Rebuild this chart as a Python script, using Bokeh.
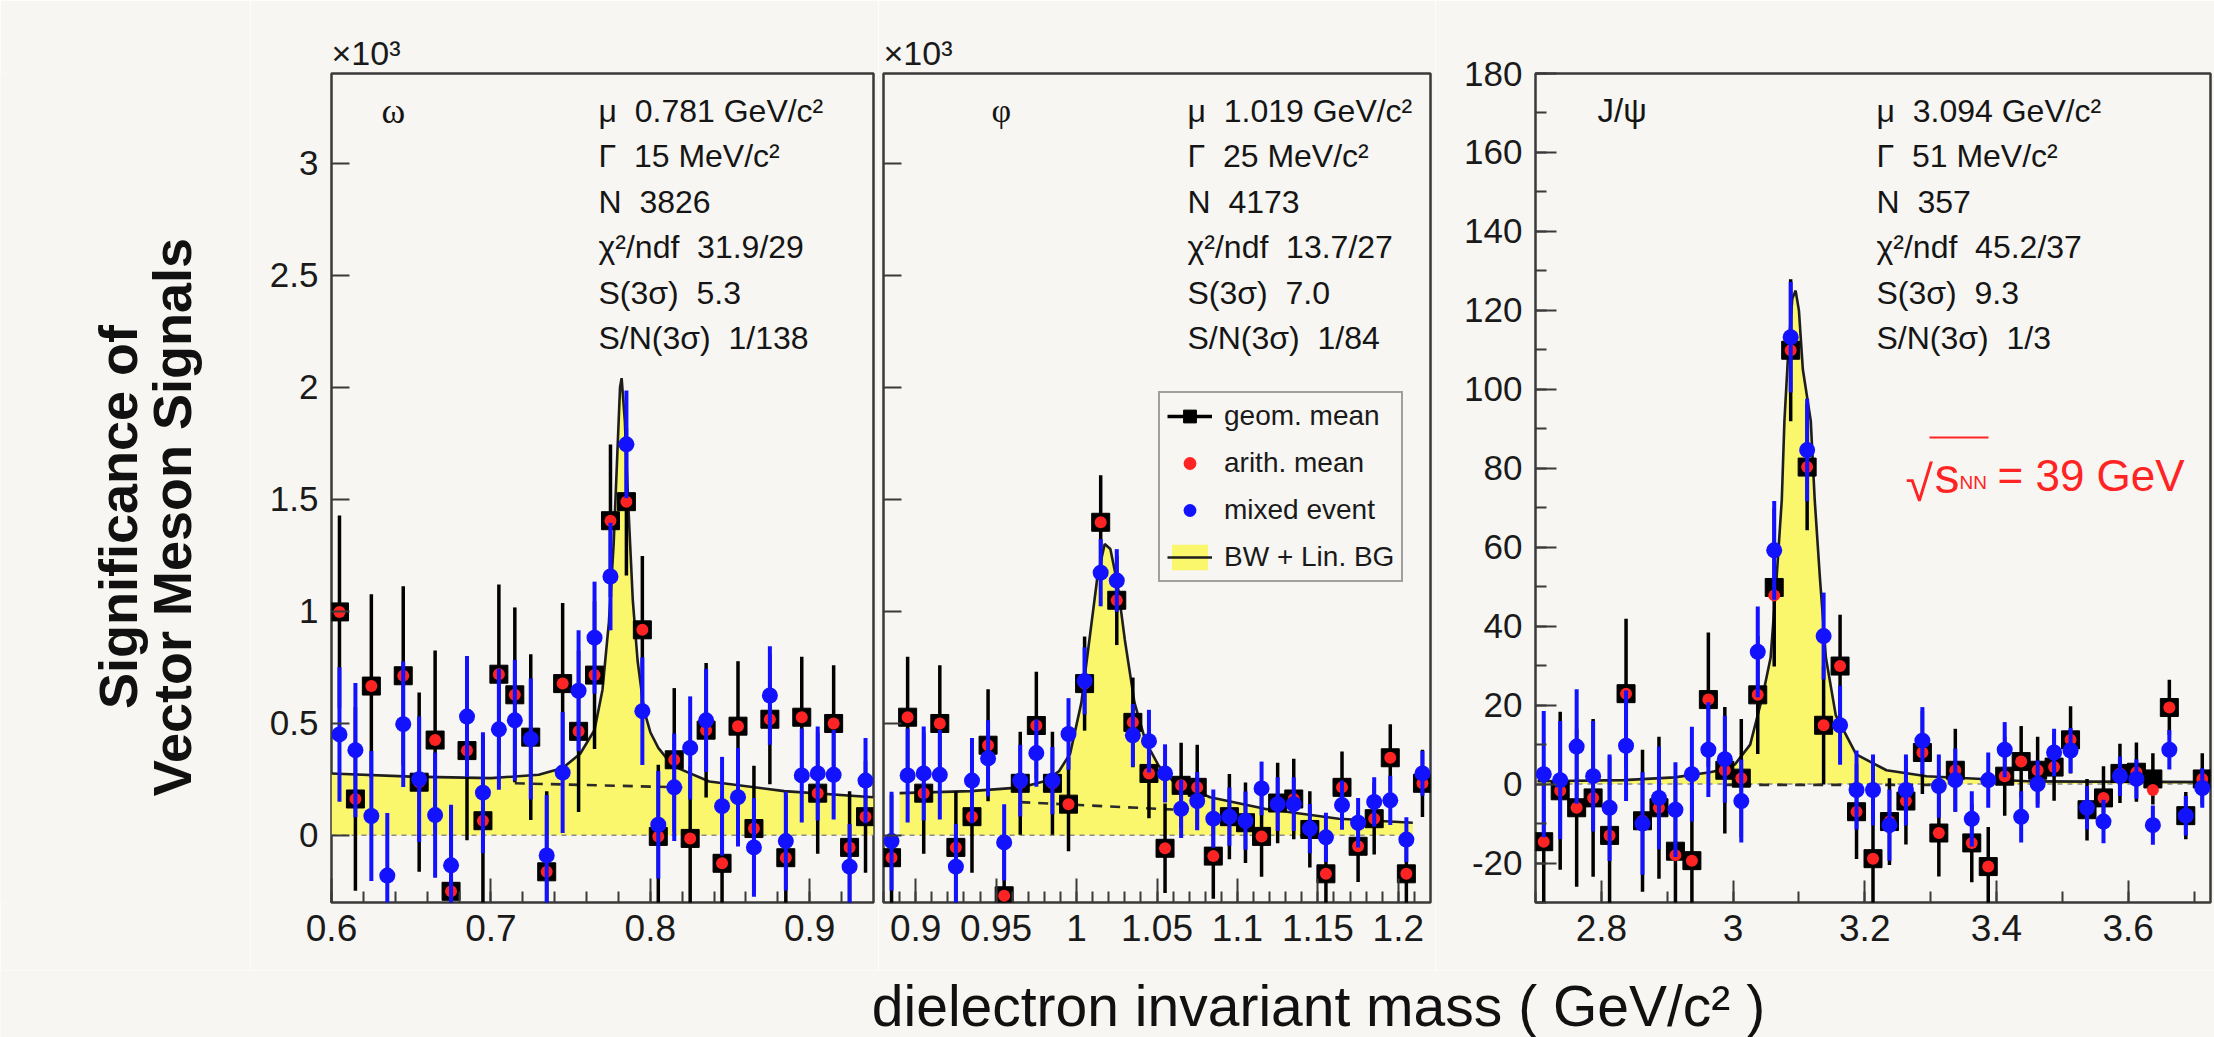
import math
from bokeh.plotting import figure
from bokeh.layouts import row, column
from bokeh.models import (Range1d, Label, Legend, LegendItem, SingleIntervalTicker,
                          CustomJSTickFormatter, ColumnDataSource, Title)
from bokeh.embed import file_html
from bokeh.resources import INLINE

NaN = float("nan")

# ---------------- data: low-mass region (omega / phi), values in units of 10^3 ----------------
lo_mass = [0.605, 0.615, 0.625, 0.635, 0.645, 0.655, 0.665, 0.675, 0.685, 0.695,
           0.705, 0.715, 0.725, 0.735, 0.745, 0.755, 0.765, 0.775, 0.785, 0.795,
           0.805, 0.815, 0.825, 0.835, 0.845, 0.855, 0.865, 0.875, 0.885, 0.895,
           0.905, 0.915, 0.925, 0.935, 0.945, 0.955, 0.965, 0.975, 0.985, 0.995,
           1.005, 1.015, 1.025, 1.035, 1.045, 1.055, 1.065, 1.075, 1.085, 1.095,
           1.105, 1.115, 1.125, 1.135, 1.145, 1.155, 1.165, 1.175, 1.185, 1.195,
           1.205, 1.215]
lo_geom = [0.997, 0.162, 0.666, NaN, 0.712, 0.237, 0.425, -0.250, 0.378, 0.065,
           0.719, 0.627, 0.438, -0.163, 0.677, 0.464, 0.715, 1.404, 1.489, 0.917,
           -0.005, 0.337, -0.014, 0.469, -0.125, 0.487, 0.030, 0.518, -0.100, 0.527,
           0.188, 0.499, -0.054, 0.083, 0.402, -0.270, 0.232, 0.490, 0.232, 0.139,
           0.677, 1.397, 1.049, 0.504, 0.276, -0.058, 0.223, 0.214, -0.093, 0.083,
           0.056, -0.005, 0.144, 0.162, 0.026, -0.172, 0.214, -0.049, 0.074, 0.346,
           -0.172, 0.232]
lo_geom_err = [0.43, 0.41, 0.41, NaN, 0.40, 0.40, 0.40, 0.38, 0.40, 0.38,
               0.40, 0.39, 0.37, 0.36, 0.36, 0.36, 0.33, 0.34, 0.33, 0.33,
               0.32, 0.32, 0.32, 0.30, 0.30, 0.29, 0.28, 0.29, 0.28, 0.27,
               0.27, 0.26, 0.25, 0.25, 0.25, 0.24, 0.23, 0.24, 0.23, 0.21,
               0.21, 0.21, 0.20, 0.20, 0.20, 0.20, 0.19, 0.19, 0.19, 0.19,
               0.18, 0.18, 0.18, 0.18, 0.17, 0.17, 0.16, 0.16, 0.16, 0.15,
               0.15, 0.15]
lo_arith = [0.997, 0.162, 0.666, NaN, 0.712, 0.237, 0.425, -0.250, 0.378, 0.065,
            0.719, 0.627, 0.438, -0.163, 0.677, 0.464, 0.715, 1.404, 1.489, 0.917,
            -0.005, 0.337, -0.014, 0.469, -0.125, 0.487, 0.030, 0.518, -0.100, 0.527,
            0.188, 0.499, -0.054, 0.083, 0.402, -0.270, 0.232, 0.490, 0.232, 0.139,
            0.677, 1.397, 1.049, 0.504, 0.276, -0.058, 0.223, 0.214, -0.093, 0.083,
            0.056, -0.005, 0.144, 0.162, 0.026, -0.172, 0.214, -0.049, 0.074, 0.346,
            -0.172, 0.232]
lo_mixed = [0.450, 0.380, 0.086, -0.180, 0.496, 0.250, 0.090, -0.134, 0.530, 0.190,
            0.473, 0.513, 0.430, -0.090, 0.280, 0.645, 0.882, 1.155, 1.745, 0.554,
            0.047, 0.214, 0.390, 0.513, 0.130, 0.170, -0.054, 0.624, -0.026, 0.267,
            0.276, 0.270, -0.140, 0.244, 0.343, -0.032, 0.244, 0.367, 0.244, 0.452,
            0.689, 1.172, 1.137, 0.446, 0.420, 0.276, 0.118, 0.153, 0.074, 0.083,
            0.065, 0.209, 0.139, 0.139, 0.030, -0.009, 0.135, 0.056, 0.149, 0.156,
            -0.019, 0.276]
lo_mixed_err = [0.30, 0.30, 0.29, 0.28, 0.28, 0.28, 0.28, 0.27, 0.27, 0.27,
                0.27, 0.27, 0.27, 0.27, 0.27, 0.27, 0.25, 0.24, 0.24, 0.24,
                0.24, 0.24, 0.23, 0.23, 0.22, 0.22, 0.22, 0.22, 0.22, 0.21,
                0.21, 0.20, 0.19, 0.19, 0.17, 0.17, 0.16, 0.15, 0.15, 0.16,
                0.15, 0.15, 0.14, 0.14, 0.14, 0.13, 0.13, 0.13, 0.13, 0.13,
                0.13, 0.12, 0.12, 0.12, 0.11, 0.11, 0.11, 0.11, 0.11, 0.11,
                0.10, 0.10]

# ---------------- data: J/psi region (counts) ----------------
hi_mass = [2.7125, 2.7375, 2.7625, 2.7875, 2.8125, 2.8375, 2.8625, 2.8875, 2.9125, 2.9375,
           2.9625, 2.9875, 3.0125, 3.0375, 3.0625, 3.0875, 3.1125, 3.1375, 3.1625, 3.1875,
           3.2125, 3.2375, 3.2625, 3.2875, 3.3125, 3.3375, 3.3625, 3.3875, 3.4125, 3.4375,
           3.4625, 3.4875, 3.5125, 3.5375, 3.5625, 3.5875, 3.6125, 3.6375, 3.6625, 3.6875,
           3.7125]
hi_geom = [-14.6, -1.7, -6.0, -3.5, -13.0, 22.9, -9.3, -6.0, -17.0, -19.4,
           21.4, 3.5, 1.5, 22.6, 49.8, 109.9, 80.3, 14.9, 29.9, -7.0,
           -18.9, -9.5, -4.3, 8.0, -12.4, 3.5, -14.9, -20.9, 2.0, 5.7,
           3.5, 4.3, 11.2, -6.5, -3.5, 2.7, 3.0, 1.3, 19.4, -8.0,
           1.3]
hi_geom_err = [16, 20, 20, 20, 20, 19, 18, 18, 18, 18,
               17, 16, 15, 15, 20, 18, 16, 15, 13, 12,
               14, 11, 11, 10.5, 11, 10.5, 10, 10, 10, 9,
               8.5, 8.5, 8.5, 7.8, 8, 7.5, 7.5, 6.5, 7, 6,
               6.5]
hi_arith = [-14.6, -1.7, -6.0, -3.5, -13.0, 22.9, -9.3, -6.0, -18.0, -19.4,
            21.4, 3.5, 1.5, 22.6, 47.8, 109.9, 80.3, 14.9, 29.9, -7.0,
            -18.9, -9.5, -4.3, 8.0, -12.4, 3.5, -14.9, -20.9, 2.0, 5.7,
            3.5, 4.3, 11.2, -6.5, -3.5, 2.7, 3.0, -1.5, 19.4, -8.0,
            1.3]
hi_mixed = [2.5, 1.0, 9.5, 2.0, -6.0, 9.7, -10.0, -3.5, -6.5, 2.5,
            8.7, 6.3, -4.3, 33.5, 59.2, 113.2, 84.6, 37.5, 14.9, -1.5,
            -1.5, -10.4, -1.5, 11.0, -0.5, 1.0, -8.8, 1.0, 8.7, -8.3,
            0.0, 8.0, 8.5, -6.0, -9.5, 2.0, 1.3, -10.4, 8.7, -8.0,
            -1.0]
hi_mixed_err = [16, 15, 14.5, 14, 13.5, 14, 13, 13, 12, 12,
                12, 11, 10.5, 11.5, 12.5, 14, 13, 11, 10, 10,
                9, 9, 9, 8.5, 8, 8, 7, 7, 7, 6.5,
                6, 6, 5.7, 5.5, 5.5, 5, 5, 5, 5, 5,
                5]

# ---------------- fit curves (BW + linear background) ----------------
omega_fit_x = [0.600, 0.650, 0.700, 0.730, 0.745, 0.756, 0.765, 0.770, 0.774, 0.777,
               0.779, 0.781, 0.782, 0.784, 0.786, 0.789, 0.792, 0.796, 0.800, 0.805,
               0.814, 0.837, 0.884, 0.940]
omega_fit_y = [0.276, 0.262, 0.255, 0.270, 0.300, 0.364, 0.470, 0.650, 0.950, 1.300,
               1.650, 2.000, 2.040, 1.850, 1.500, 1.050, 0.780, 0.560, 0.460, 0.390,
               0.310, 0.240, 0.197, 0.170]
omega_bg_x = [0.715, 0.820]
omega_bg_y = [0.232, 0.214]

phi_fit_x = [0.890, 0.934, 0.966, 0.980, 0.989, 0.996, 1.003, 1.008, 1.013, 1.0175,
             1.021, 1.0255, 1.030, 1.036, 1.043, 1.051, 1.060, 1.083, 1.117, 1.163,
             1.209]
phi_fit_y = [0.188, 0.197, 0.214, 0.241, 0.285, 0.364, 0.592, 0.873, 1.155, 1.300,
             1.278, 1.120, 0.873, 0.592, 0.417, 0.311, 0.241, 0.170, 0.118, 0.074,
             0.056]
phi_bg_x = [0.965, 1.060]
phi_bg_y = [0.148, 0.115]

jpsi_fit_x = [2.703, 2.834, 2.911, 2.965, 2.988, 3.003, 3.026, 3.045, 3.057, 3.066,
              3.074, 3.078, 3.084, 3.090, 3.095, 3.100, 3.106, 3.118, 3.124, 3.132,
              3.141, 3.156, 3.187, 3.233, 3.294, 3.447, 3.725]
jpsi_fit_y = [0.7, 1.0, 1.7, 3.0, 3.8, 5.0, 10.0, 22.4, 32.0, 52.0,
              72.0, 92.0, 110.0, 123.0, 125.0, 120.0, 105.0, 92.0, 72.0, 52.0,
              32.0, 17.4, 7.5, 3.5, 2.0, 0.7, 0.5]
jpsi_bg_x = [2.985, 3.300]
jpsi_bg_y = [-0.2, -0.2]

SP = "\u00a0\u00a0"
omega_stats = ["μ" + SP + "0.781 GeV/c²", "Γ" + SP + "15 MeV/c²", "N" + SP + "3826",
               "χ²/ndf" + SP + "31.9/29", "S(3σ)" + SP + "5.3", "S/N(3σ)" + SP + "1/138"]
phi_stats = ["μ" + SP + "1.019 GeV/c²", "Γ" + SP + "25 MeV/c²", "N" + SP + "4173",
             "χ²/ndf" + SP + "13.7/27", "S(3σ)" + SP + "7.0", "S/N(3σ)" + SP + "1/84"]
jpsi_stats = ["μ" + SP + "3.094 GeV/c²", "Γ" + SP + "51 MeV/c²", "N" + SP + "357",
              "χ²/ndf" + SP + "45.2/37", "S(3σ)" + SP + "9.3", "S/N(3σ)" + SP + "1/3"]
legend_labels = ["geom. mean", "arith. mean", "mixed event", "BW + Lin. BG"]

# ---------------- style / layout ----------------
BG = "#f7f6f2"
FONT = "Liberation Sans"
FRAME = "#3a3a3a"
YELLOW = "#faf76c"
RED = "#ff2424"
BLUE = "#1212ff"
TOP, FH, ROW_H = 73, 829, 970
TITLE_W = 250

P1 = dict(left=331 - TITLE_W, width=542, canvas=878 - TITLE_W, xr=(0.60, 0.94), yr=(-0.3, 3.4))
P2 = dict(left=5, width=547, canvas=557, xr=(0.88, 1.22), yr=(-0.3, 3.4))
P3 = dict(left=100, width=675, canvas=779, xr=(2.70, 3.725), yr=(-30.0, 180.0))


def xd(P, absleft, px):
    x0, x1 = P["xr"]
    return x0 + (px - absleft) / P["width"] * (x1 - x0)


def yd(P, py):
    y0, y1 = P["yr"]
    return y1 - (py - TOP) / FH * (y1 - y0)


def make_fig(P):
    p = figure(width=P["canvas"], height=ROW_H, x_range=Range1d(*P["xr"]),
               y_range=Range1d(*P["yr"]), output_backend="svg", toolbar_location=None,
               title=None,
               min_border_left=P["left"], min_border_right=P["canvas"] - P["left"] - P["width"],
               min_border_top=TOP, min_border_bottom=ROW_H - TOP - FH,
               background_fill_color=BG, border_fill_color=BG,
               outline_line_color=FRAME, outline_line_width=2.5)
    p.grid.visible = False
    for ax in [p.xaxis[0], p.yaxis[0]]:
        ax.axis_line_color = None
        ax.major_tick_out = 0
        ax.minor_tick_out = 0
        ax.major_tick_line_color = FRAME
        ax.minor_tick_line_color = FRAME
        ax.major_tick_line_width = 2
        ax.minor_tick_line_width = 2
        ax.minor_tick_in = 11
        ax.major_label_text_font = FONT
        ax.major_label_text_color = "#1a1a1a"
        ax.formatter = CustomJSTickFormatter(code="return String(Math.round(tick*1000)/1000);")
    p.xaxis[0].major_label_text_font_size = "37px"
    p.xaxis[0].major_label_standoff = 12
    p.yaxis[0].major_label_text_font_size = "35px"
    p.yaxis[0].major_label_standoff = 13
    return p


def draw_fit(p, fx, fy, bx, by):
    p.varea(x=fx, y1=[0.0] * len(fx), y2=fy, fill_color=YELLOW)
    p.line([fx[0], fx[-1]], [0.0, 0.0], line_color="#8a8a8a", line_width=1.6, line_dash="5 5")
    p.line(bx, by, line_color="#2a2a2a", line_width=2.6, line_dash="10 8")
    ln = p.line(fx, fy, line_color="#1e1e1e", line_width=2.6)
    return ln


def draw_data(p, P, xs, g, ge, a, b, be):
    x0, x1 = P["xr"]
    idx = [i for i, x in enumerate(xs) if x0 < x < x1]
    src = ColumnDataSource(dict(
        x=[xs[i] for i in idx],
        g=[g[i] for i in idx],
        glo=[g[i] - ge[i] for i in idx],
        ghi=[g[i] + ge[i] for i in idx],
        a=[a[i] for i in idx],
        b=[b[i] for i in idx],
        blo=[b[i] - be[i] for i in idx],
        bhi=[b[i] + be[i] for i in idx],
    ))
    seg = p.segment(x0="x", y0="glo", x1="x", y1="ghi", source=src, line_color="black", line_width=3.5)
    sq = p.scatter("x", "g", source=src, marker="square", size=18, fill_color="black", line_color="black")
    red = p.scatter("x", "a", source=src, marker="circle", size=12, fill_color=RED, line_color=None)
    p.segment(x0="x", y0="blo", x1="x", y1="bhi", source=src, line_color=BLUE, line_width=4)
    blue = p.scatter("x", "b", source=src, marker="circle", size=16, fill_color=BLUE, line_color=None)
    return seg, sq, red, blue


def add_stats(p, P, absleft, px_left, lines):
    for i, t in enumerate(lines):
        p.add_layout(Label(x=xd(P, absleft, px_left), y=yd(P, 110 + 45.5 * i), text=t,
                           text_font=FONT, text_font_size="32px", text_color="#151515",
                           text_baseline="middle", text_align="left"))


def add_x1e3(p):
    p.add_layout(Title(text="×10³", align="left", offset=0, standoff=3, text_font=FONT,
                       text_font_size="34px", text_font_style="normal", text_color="#1a1a1a"),
                 "above")


# ---------------- left title strip ----------------
ft = figure(width=TITLE_W, height=ROW_H, x_range=Range1d(0, TITLE_W), y_range=Range1d(0, ROW_H),
            output_backend="svg", toolbar_location=None, title=None,
            x_axis_type=None, y_axis_type=None, min_border=0,
            background_fill_color=BG, border_fill_color=BG, outline_line_color=None)
ft.grid.visible = False
for txt, px in [("Significance of", 117), ("Vector Meson Signals", 171)]:
    ft.add_layout(Label(x=px, y=ROW_H - 519, text=txt, angle=math.pi / 2,
                        text_font=FONT, text_font_size="54px", text_font_style="bold",
                        text_color="#111111", text_align="center", text_baseline="middle"))

# ---------------- panel 1: omega ----------------
f1 = make_fig(P1)
f1.xaxis[0].ticker = SingleIntervalTicker(interval=0.1, num_minor_ticks=5)
f1.xaxis[0].major_tick_in = 24
f1.yaxis[0].ticker = SingleIntervalTicker(interval=0.5, num_minor_ticks=0)
f1.yaxis[0].major_tick_in = 18
f1.yaxis[0].minor_tick_line_color = None
draw_fit(f1, omega_fit_x, omega_fit_y, omega_bg_x, omega_bg_y)
draw_data(f1, P1, lo_mass, lo_geom, lo_geom_err, lo_arith, lo_mixed, lo_mixed_err)
add_stats(f1, P1, 331, 598, omega_stats)
f1.add_layout(Label(x=xd(P1, 331, 381), y=yd(P1, 110), text="ω", text_font="Liberation Serif",
                    text_font_size="36px", text_color="#151515", text_baseline="middle"))
add_x1e3(f1)

# ---------------- panel 2: phi ----------------
f2 = make_fig(P2)
f2.xaxis[0].ticker = SingleIntervalTicker(interval=0.05, num_minor_ticks=5)
f2.xaxis[0].major_tick_in = 24
f2.yaxis[0].ticker = SingleIntervalTicker(interval=0.5, num_minor_ticks=0)
f2.yaxis[0].major_tick_in = 18
f2.yaxis[0].minor_tick_line_color = None
f2.yaxis[0].formatter = CustomJSTickFormatter(code="return '';")
f2.yaxis[0].major_label_standoff = 0
f2.yaxis[0].major_label_text_font_size = "1px"
fit2 = draw_fit(f2, phi_fit_x, phi_fit_y, phi_bg_x, phi_bg_y)
area2 = f2.renderers[0]
seg2, sq2, red2, blue2 = draw_data(f2, P2, lo_mass, lo_geom, lo_geom_err, lo_arith, lo_mixed, lo_mixed_err)
add_stats(f2, P2, 883, 1187, phi_stats)
f2.add_layout(Label(x=xd(P2, 883, 991), y=yd(P2, 110), text="φ", text_font="Liberation Serif",
                    text_font_size="34px", text_color="#151515", text_baseline="middle"))
add_x1e3(f2)
legend = Legend(items=[LegendItem(label=legend_labels[0], renderers=[seg2, sq2]),
                       LegendItem(label=legend_labels[1], renderers=[red2]),
                       LegendItem(label=legend_labels[2], renderers=[blue2]),
                       LegendItem(label=legend_labels[3], renderers=[area2, fit2])],
                location=(275, 320), orientation="vertical",
                label_text_font=FONT, label_text_font_size="28px", label_text_color="#1a1a1a",
                glyph_width=45, glyph_height=32, label_height=32, label_standoff=12,
                spacing=15, padding=7, margin=0,
                border_line_color="#4a4a4a", border_line_width=2,
                background_fill_color=BG, background_fill_alpha=1.0)
f2.add_layout(legend)

# ---------------- panel 3: J/psi ----------------
f3 = make_fig(P3)
f3.xaxis[0].ticker = SingleIntervalTicker(interval=0.2, num_minor_ticks=2)
f3.xaxis[0].major_tick_in = 22
f3.yaxis[0].ticker = SingleIntervalTicker(interval=20, num_minor_ticks=2)
f3.yaxis[0].major_tick_in = 21
draw_fit(f3, jpsi_fit_x, jpsi_fit_y, jpsi_bg_x, jpsi_bg_y)
draw_data(f3, P3, hi_mass, hi_geom, hi_geom_err, hi_arith, hi_mixed, hi_mixed_err)
add_stats(f3, P3, 1535, 1876, jpsi_stats)
f3.add_layout(Label(x=xd(P3, 1535, 1597), y=yd(P3, 110), text="J/ψ", text_font=FONT,
                    text_font_size="33px", text_color="#151515", text_baseline="middle"))
# sqrt(s_NN) = 39 GeV
f3.add_layout(Label(x=xd(P3, 1535, 1905), y=yd(P3, 483), text="√", text_font=FONT,
                    text_font_size="50px", text_color=RED, text_baseline="alphabetic"))
f3.segment(x0=[xd(P3, 1535, 1929)], y0=[yd(P3, 437)], x1=[xd(P3, 1535, 1988)], y1=[yd(P3, 437)],
           line_color=RED, line_width=2)
f3.add_layout(Label(x=xd(P3, 1535, 1934), y=yd(P3, 475), text="s", text_font=FONT,
                    text_font_size="50px", text_color=RED, text_baseline="alphabetic"))
f3.add_layout(Label(x=xd(P3, 1535, 1959), y=yd(P3, 482), text="NN", text_font=FONT,
                    text_font_size="19px", text_color=RED, text_baseline="alphabetic"))
f3.add_layout(Label(x=xd(P3, 1535, 1997), y=yd(P3, 475), text="= 39 GeV", text_font=FONT,
                    text_font_size="44px", text_color=RED, text_baseline="alphabetic"))

# ---------------- bottom strip with the common x-axis title ----------------
fb = figure(width=2214, height=1037 - ROW_H, x_range=Range1d(0, 2214), y_range=Range1d(0, 1037 - ROW_H),
            output_backend="svg", toolbar_location=None, title=None,
            x_axis_type=None, y_axis_type=None, min_border=0,
            background_fill_color=BG, border_fill_color=BG, outline_line_color=None)
fb.grid.visible = False
fb.add_layout(Label(x=1318, y=1037 - 1005, text="dielectron invariant mass ( GeV/c² )",
                    text_font=FONT, text_font_size="57px", text_color="#111111",
                    text_align="center", text_baseline="middle"))

layout = column(row(ft, f1, f2, f3, spacing=0), fb, spacing=0)
open("out.html", "w").write(file_html(layout, INLINE))
